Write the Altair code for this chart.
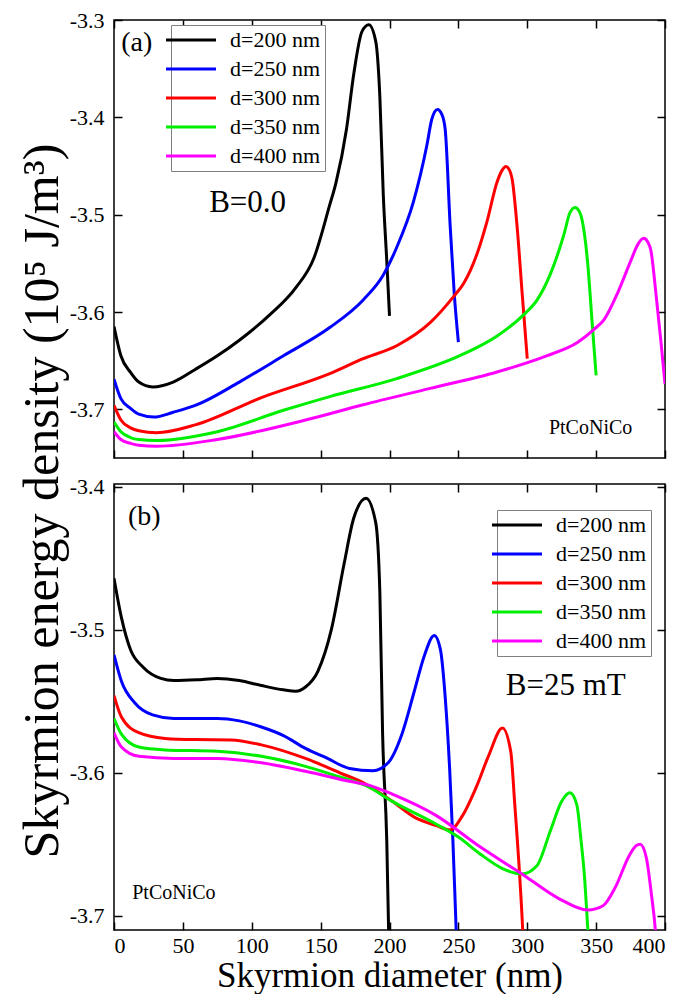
import altair as alt
import pandas as pd

FONT = "Liberation Serif"
SERIES = ["d=200 nm", "d=250 nm", "d=300 nm", "d=350 nm", "d=400 nm"]
COLORS = ["#000000", "#0000ff", "#ff0000", "#00ee00", "#ff00ff"]
X_TICKS = [0, 50, 100, 150, 200, 250, 300, 350, 400]
Y_TICKS_A = [-3.7, -3.6, -3.5, -3.4, -3.3]
Y_TICKS_B = [-3.7, -3.6, -3.5, -3.4]
Y_DOMAIN_A = [-3.75, -3.3]
Y_DOMAIN_B = [-3.71, -3.398]

# ---- panel (a): B = 0.0 ----
a200_x = [0, 5, 12, 18, 28, 43, 59, 75, 91, 113, 132, 145, 156.6, 161, 168.8, 174, 180, 185, 190, 193,
          195.5, 198, 200]
a200_y = [-3.615, -3.645, -3.662, -3.672, -3.677, -3.672, -3.659, -3.645, -3.629, -3.603, -3.575, -3.545,
          -3.49, -3.468, -3.412, -3.356, -3.312, -3.305, -3.322, -3.379, -3.48, -3.547, -3.604]
a250_x = [0, 5, 12, 18, 29, 43, 59, 91, 123, 156.6, 180.9, 195.5, 205.2, 217.4, 227.1, 230.7, 234.8, 238,
          240.4, 244.1, 247, 250]
a250_y = [-3.669, -3.689, -3.699, -3.705, -3.708, -3.703, -3.696, -3.672, -3.645, -3.616, -3.5876, -3.562,
          -3.5337, -3.4866, -3.429, -3.402, -3.392, -3.397, -3.412, -3.513, -3.581, -3.631]
a300_x = [0, 5, 12, 18, 31, 59, 107, 156.6, 180.9, 205.2, 229.5, 246.5, 253.8, 263.5, 270.8, 278.1, 281.5,
          284.6, 287, 289, 292.7, 296.3, 300]
a300_y = [-3.696, -3.711, -3.719, -3.722, -3.724, -3.716, -3.688, -3.6633, -3.648, -3.6347, -3.611, -3.5842,
          -3.5707, -3.5404, -3.5068, -3.4664, -3.455, -3.4505, -3.454, -3.463, -3.5134, -3.5808, -3.648]
a350_x = [0, 5, 12, 18, 31, 75, 123, 156.6, 205.2, 253.8, 278.1, 297.5, 307.2, 316.9, 326.7, 331, 334.7,
          337.5, 340, 343.7, 347.3, 350]
a350_y = [-3.713, -3.723, -3.729, -3.731, -3.732, -3.723, -3.701, -3.6869, -3.6684, -3.6431, -3.6246,
          -3.6027, -3.5876, -3.5606, -3.520, -3.498, -3.4926, -3.496, -3.5068, -3.5472, -3.6145, -3.665]
a400_x = [0, 5, 12, 18, 31, 75, 139, 180.9, 229.5, 278.1, 314.5, 336.4, 348.5, 355.8, 365.5, 375.2, 380.5,
          384.5, 387.5, 389.8, 393.4, 397.1, 400]
a400_y = [-3.723, -3.731, -3.735, -3.737, -3.738, -3.731, -3.711, -3.6953, -3.6785, -3.6616, -3.6448,
          -3.6313, -3.6178, -3.6078, -3.5808, -3.5472, -3.530, -3.5242, -3.528, -3.537, -3.5808, -3.6313, -3.674]

# ---- panel (b): B = 25 mT ----
b200_x = [0, 5.4, 12, 21, 34, 43.5, 60, 75, 91, 107, 123, 132, 139, 148, 158, 167, 174, 183, 190, 193, 195, 198, 200]
b200_y = [-3.464, -3.4915, -3.514, -3.526, -3.534, -3.5355, -3.535, -3.534, -3.5355, -3.539, -3.542, -3.543,
          -3.540, -3.529, -3.499, -3.454, -3.422, -3.408, -3.425, -3.474, -3.573, -3.647, -3.74]
b250_x = [0, 5.4, 15, 28, 43.5, 60, 75, 91, 107, 123, 139, 155, 171, 188, 199, 209, 218, 225, 232.5, 237,
          240.5, 243.7, 246, 248.4, 250]
b250_y = [-3.5175, -3.536, -3.551, -3.5595, -3.562, -3.562, -3.562, -3.5637, -3.568, -3.574, -3.583, -3.590,
          -3.597, -3.5986, -3.593, -3.573, -3.543, -3.519, -3.504, -3.514, -3.548, -3.598, -3.647, -3.71, -3.75]
b300_x = [0, 5.4, 18, 37, 59, 85, 107, 139, 164, 183, 202, 218, 234, 244, 253, 263, 272, 282, 288, 291,
          294.5, 296.7, 298]
b300_y = [-3.546, -3.561, -3.572, -3.576, -3.5768, -3.577, -3.5805, -3.590, -3.600, -3.608, -3.620, -3.631,
          -3.637, -3.640, -3.630, -3.610, -3.588, -3.5687, -3.585, -3.623, -3.672, -3.71, -3.74]
b350_x = [0, 5.4, 18, 37, 75, 107, 139, 164, 183, 202, 234, 250, 266, 282, 296, 307, 317, 325, 331, 336,
          339, 341.5, 344, 346]
b350_y = [-3.562, -3.573, -3.582, -3.584, -3.585, -3.5885, -3.5955, -3.603, -3.609, -3.620, -3.636, -3.645,
          -3.657, -3.667, -3.6708, -3.665, -3.640, -3.620, -3.614, -3.6225, -3.647, -3.672, -3.71, -3.74]
b400_x = [0, 5.4, 18, 43.5, 75, 107, 139, 171, 186, 202, 234, 266, 298, 323, 344, 355, 364, 374, 379, 382,
          386.5, 390, 393, 395]
b400_y = [-3.572, -3.582, -3.5885, -3.590, -3.590, -3.593, -3.599, -3.606, -3.609, -3.615, -3.630, -3.652,
          -3.672, -3.688, -3.696, -3.693, -3.680, -3.658, -3.651, -3.650, -3.6597, -3.684, -3.71, -3.74]

# ---- annotations ----
ann_a_text = ["(a)", "B=0.0", "PtCoNiCo"]
ann_a_x = [16.5, 97, 346]
ann_a_y = [-3.324, -3.488, -3.719]
ann_a_size = [28, 31, 20]
ann_b_text = ["(b)", "B=25 mT", "PtCoNiCo"]
ann_b_x = [22, 328, 43.5]
ann_b_y = [-3.421, -3.539, -3.684]
ann_b_size = [28, 31, 20]


def frame(xs_list, ys_list):
    rows = []
    for name, xs, ys in zip(SERIES, xs_list, ys_list):
        for i, (x, y) in enumerate(zip(xs, ys)):
            rows.append({"x": x, "y": y, "series": name, "i": i})
    return pd.DataFrame(rows)


df_a = frame([a200_x, a250_x, a300_x, a350_x, a400_x], [a200_y, a250_y, a300_y, a350_y, a400_y])
df_b = frame([b200_x, b250_x, b300_x, b350_x, b400_x], [b200_y, b250_y, b300_y, b350_y, b400_y])
ann_a = pd.DataFrame({"t": ann_a_text, "x": ann_a_x, "y": ann_a_y, "fs": ann_a_size})
ann_b = pd.DataFrame({"t": ann_b_text, "x": ann_b_x, "y": ann_b_y, "fs": ann_b_size})

YLAB = "replace(format(datum.value, '.1f'), '\u2212', '-')"
AX = dict(labelFont=FONT, labelFontSize=22, labelColor="black", tickColor="black", tickWidth=1.5,
          tickSize=8, offset=-8, domain=False, grid=False)


def panel(df, ann, ydom, yticks, show_x, lx, ly, height):
    xs = alt.Scale(domain=[0, 400], nice=False, zero=False)
    ys = alt.Scale(domain=ydom, nice=False, zero=False)
    xkw = dict(AX, orient="bottom", values=X_TICKS, labels=show_x, labelPadding=5)
    if show_x:
        xkw.update(title="Skyrmion diameter (nm)", titleFont=FONT, titleFontSize=35, titlePadding=2,
                   titleFontWeight="normal", titleColor="black")
    else:
        xkw.update(title=None)
    xaxis = alt.Axis(**xkw)
    yaxis = alt.Axis(**dict(AX, orient="left", values=yticks, labelExpr=YLAB, labelPadding=10, title=None))
    leg = alt.Legend(title=None, orient="none", legendX=lx, legendY=ly, symbolType="M-5,0H5",
                     symbolSize=100, symbolStrokeWidth=3, labelFont=FONT, labelFontSize=22,
                     labelColor="black", strokeColor="#7f7f7f", fillColor="white", padding=4,
                     rowPadding=7, symbolOffset=5, labelOffset=28, labelLimit=300)
    lines = alt.Chart(df).mark_line(strokeWidth=3, interpolate="monotone", clip=True).encode(
        x=alt.X("x:Q", scale=xs, axis=xaxis),
        y=alt.Y("y:Q", scale=ys, axis=yaxis),
        color=alt.Color("series:N", scale=alt.Scale(domain=SERIES, range=COLORS), sort=SERIES, legend=leg),
        order="i:Q",
    )
    mirror = alt.Chart(df).mark_point(opacity=0, clip=True).encode(
        x=alt.X("x:Q", scale=xs, axis=alt.Axis(**dict(AX, orient="top", values=X_TICKS, labels=False,
                                                       title=None))),
        y=alt.Y("y:Q", scale=ys, axis=alt.Axis(**dict(AX, orient="right", values=yticks, labels=False,
                                                       title=None))),
    )
    texts = alt.Chart(ann).mark_text(font=FONT, color="black").encode(
        x=alt.X("x:Q", scale=xs, axis=None),
        y=alt.Y("y:Q", scale=ys, axis=None),
        text="t:N",
        size=alt.Size("fs:Q", scale=None),
    )
    return alt.layer(lines, mirror, texts).resolve_axis(x="independent", y="independent").properties(
        width=551, height=height)


top = panel(df_a, ann_a, Y_DOMAIN_A, Y_TICKS_A, False, 57, 5, 438)
bottom = panel(df_b, ann_b, Y_DOMAIN_B, Y_TICKS_B, True, 383, 26, 446)

chart = alt.vconcat(top, bottom, spacing=15).resolve_scale(color="independent").properties(
    title=alt.TitleParams(text="Skyrmion energy density (10\u2075 J/m\u00b3)", orient="left", anchor="middle",
                          font=FONT, fontSize=50, fontWeight="normal", color="black", offset=0),
    padding={"left": 10, "top": 0, "right": 0, "bottom": 0},
).configure(font=FONT, background="white").configure_view(stroke="black", strokeWidth=1.5)

chart.save("out.html", embed_options={"renderer": "svg", "actions": False})
